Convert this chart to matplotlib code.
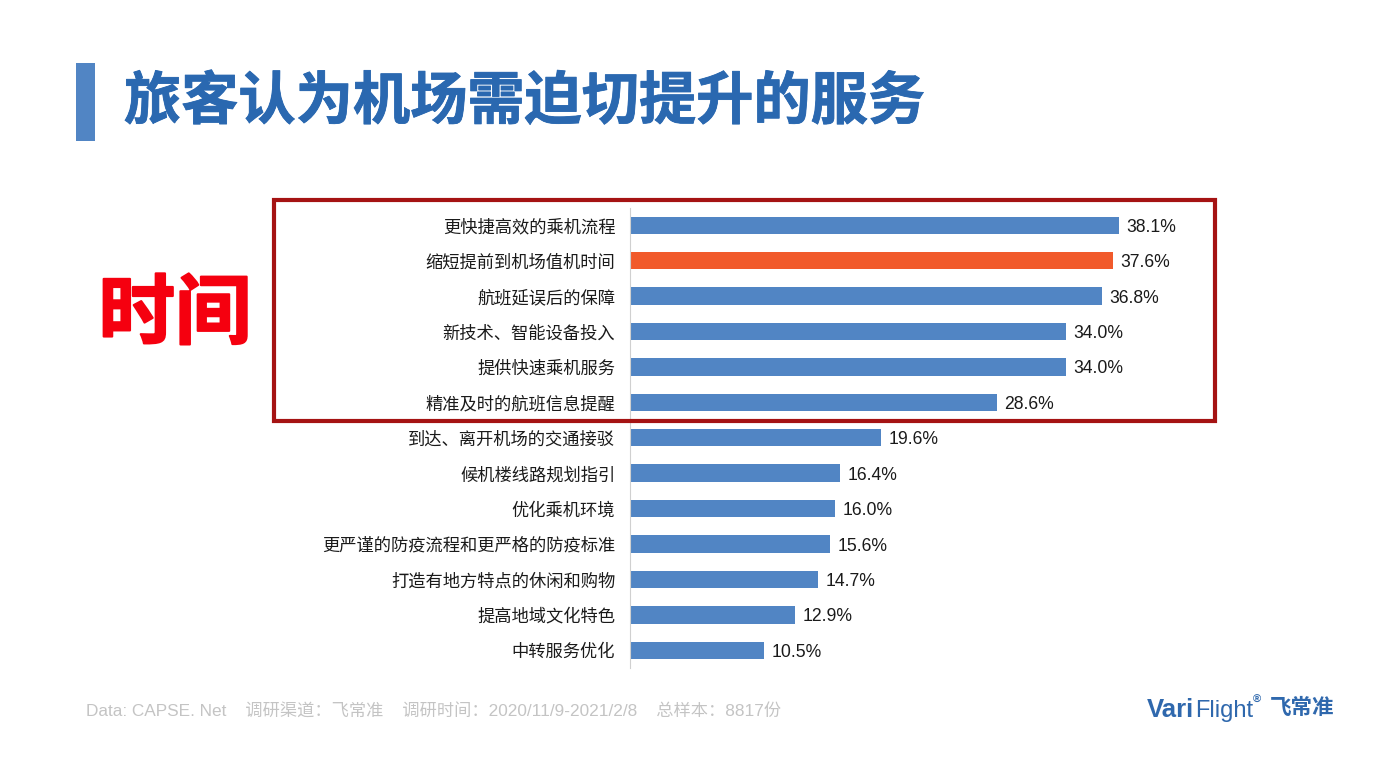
import matplotlib
matplotlib.use("Agg")
import matplotlib.pyplot as plt
from matplotlib.patches import Rectangle
import matplotlib.patheffects as pe

plt.rcParams['font.family'] = ['Noto Sans CJK SC', 'DejaVu Sans']

W = 1378
H = 775

labels = ["更快捷高效的乘机流程", "缩短提前到机场值机时间", "航班延误后的保障", "新技术、智能设备投入",
          "提供快速乘机服务", "精准及时的航班信息提醒", "到达、离开机场的交通接驳", "候机楼线路规划指引",
          "优化乘机环境", "更严谨的防疫流程和更严格的防疫标准", "打造有地方特点的休闲和购物",
          "提高地域文化特色", "中转服务优化"]
values = [38.1, 37.6, 36.8, 34.0, 34.0, 28.6, 19.6, 16.4, 16.0, 15.6, 14.7, 12.9, 10.5]
highlight = 1

title = "旅客认为机场需迫切提升的服务"
side_label = "时间"
footer = "Data: CAPSE. Net    调研渠道：飞常准    调研时间：2020/11/9-2021/2/8    总样本：8817份"

blue = "#5185c4"
orange = "#f15a2b"
logo_blue = "#2f68ad"


def fx(px):
    return px / W


def fy(py):
    return 1 - py / H


fig = plt.figure(figsize=(W / 100, H / 100), dpi=100, facecolor="white")

# chart area, in pixels of the slide
left, right, top, bottom = 629.5, 1200, 207.5, 668
ax = fig.add_axes([fx(left), fy(bottom), fx(right - left), (bottom - top) / H])
colors = [orange if i == highlight else blue for i in range(len(values))]
ax.barh(range(len(values)), values, height=0.49, color=colors)
ax.set_ylim(len(values) - 0.5, -0.5)
ax.set_xlim(0, (right - left) / 12.85)
ax.set_yticks(range(len(values)))
ax.set_yticklabels(labels, fontsize=12.45, color="#1a1a1a")
ax.tick_params(axis="y", length=0, pad=10.3)
ax.xaxis.set_visible(False)
for s in ["top", "right", "bottom"]:
    ax.spines[s].set_visible(False)
ax.spines["left"].set_color("#d0d0d0")
ax.spines["left"].set_linewidth(0.8)
for i, v in enumerate(values):
    ax.text(v + 0.56, i, "%.1f%%" % v, va="center_baseline", ha="left", fontsize=12.7,
            family=["Liberation Sans"], color="#1a1a1a")

# title block
fig.add_artist(Rectangle((fx(76), fy(141)), 19 / W, 78 / H, transform=fig.transFigure,
                         color="#5185c4", lw=0))
fig.text(fx(124), fy(102), title, fontsize=41.2, fontweight="bold", color="#2a68b0",
         va="center", ha="left",
         path_effects=[pe.withStroke(linewidth=0.6, foreground="#2a68b0")])

# red frame around the time related items
fig.add_artist(Rectangle((fx(273.5), fy(420.5)), 941 / W, 220.5 / H, transform=fig.transFigure,
                         fill=False, edgecolor="#a51313", lw=3))
fig.text(fx(175), fy(315), side_label, fontsize=55, fontweight="bold", color="#f5000f",
         va="center", ha="center",
         path_effects=[pe.withStroke(linewidth=1.5, foreground="#f5000f")])

# footer
fig.text(fx(86), fy(717), footer, fontsize=12.4, color="#c4c4c4", va="baseline", ha="left",
         family=["Liberation Sans", "Noto Sans CJK SC"])

# logo
fig.text(fx(1147), fy(717), "Vari", fontsize=18.5, fontweight="bold", color=logo_blue,
         va="baseline", ha="left", family=["Liberation Sans"])
fig.text(fx(1195), fy(717), "Flight", fontsize=17, color=logo_blue,
         va="baseline", ha="left", family=["Liberation Sans"])
fig.text(fx(1253), fy(700), "®", fontsize=8, fontweight="bold", color=logo_blue,
         va="center", ha="left", family=["Liberation Sans"])
fig.text(fx(1334), fy(708), "飞常准", fontsize=15.5, fontweight="bold", color=logo_blue,
         va="center", ha="right")

fig.savefig("out.png", dpi=100, facecolor="white")
